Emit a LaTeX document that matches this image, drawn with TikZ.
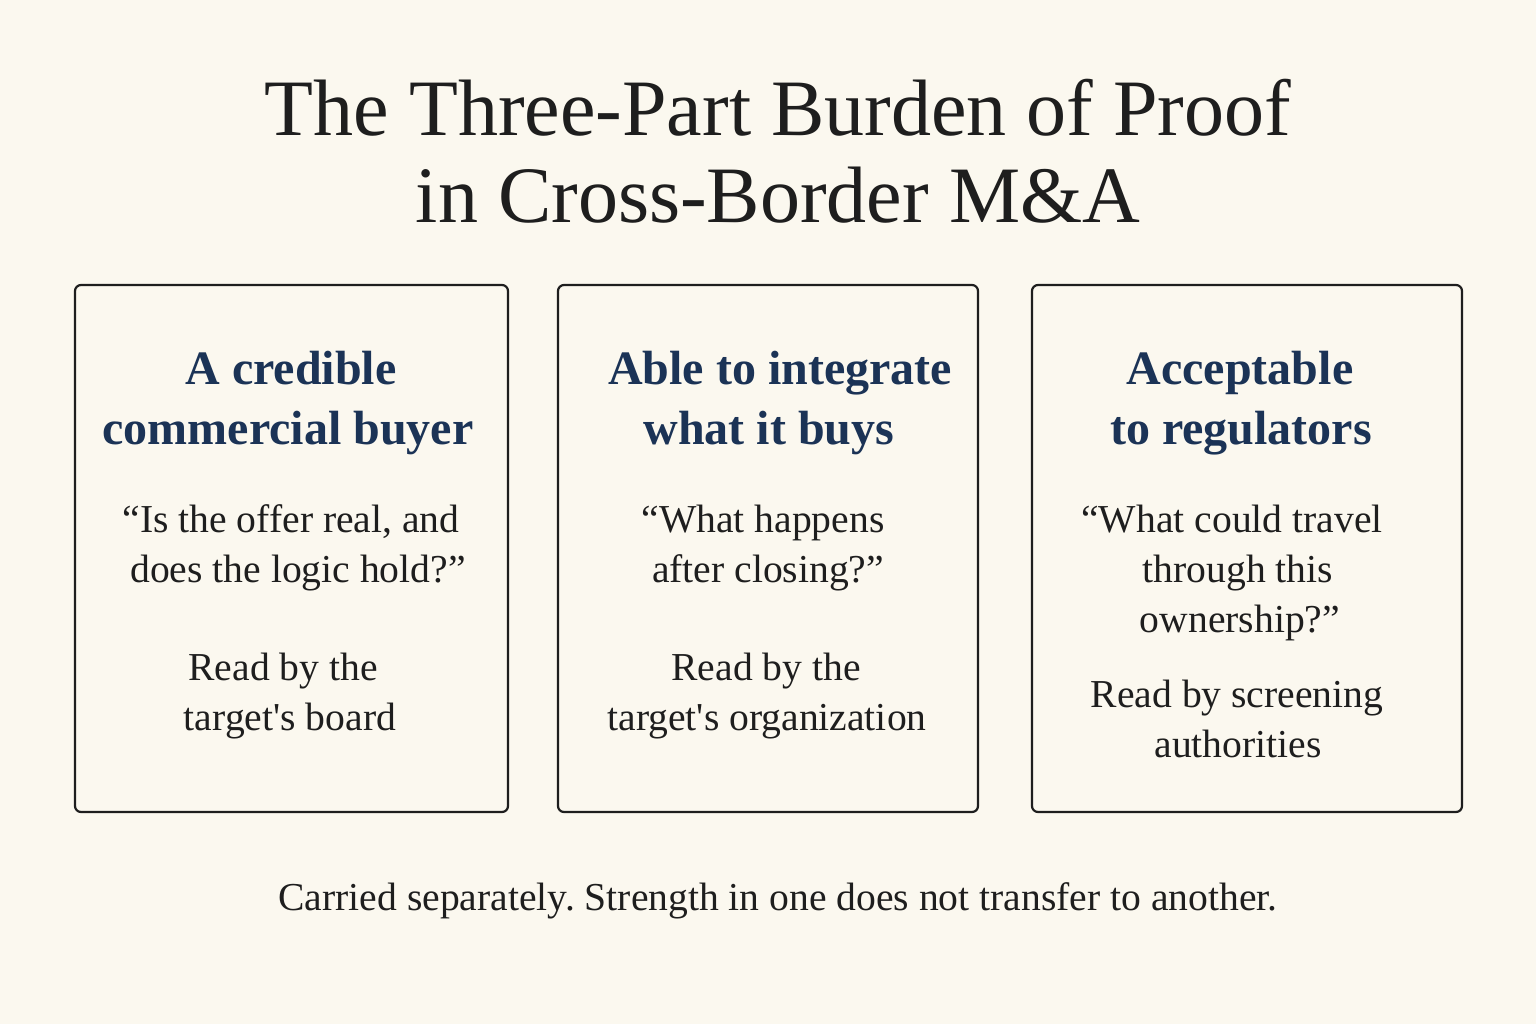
\documentclass[tikz,border=0pt]{standalone}
\usepackage{fontspec}
\setmainfont{Liberation Serif}
\definecolor{bg}{HTML}{FBF8EF}
\definecolor{ink}{HTML}{1E1E1E}
\definecolor{navy}{HTML}{1B3356}
\frenchspacing
\begin{document}
\begin{tikzpicture}[x=0.5pt,y=-0.5pt,
  card/.style={draw=ink,line width=1.1pt,rounded corners=3pt},
  t/.style={font=\fontsize{40}{44}\selectfont,text=ink,anchor=base},
  h/.style={font=\fontsize{24}{30}\selectfont\bfseries,text=navy,anchor=base},
  b/.style={font=\fontsize{19.8}{22}\selectfont,text=ink,anchor=base}]
\fill[bg] (0,0) rectangle (1536,1024);
\useasboundingbox (0,0) rectangle (1536,1024);
\node[t] (t1) at (778,135) {The Three-Part Burden of Proof};
\node[t] (t2) at (778,222) {in Cross-Border M\&A};
\draw[card] (75,285) rectangle (508,812);
\draw[card] (558,285) rectangle (978,812);
\draw[card] (1032,285) rectangle (1462,812);
% card 1
\node[h] (a1) at (291,384) {A credible};
\node[h] (a2) at (288,444) {commercial buyer};
\node[b] (a3) at (291,532) {“Is the offer real, and};
\node[b] (a4) at (298,582) {does the logic hold?”};
\node[b] (a5) at (283,680) {Read by the};
\node[b] (a6) at (290,730) {target\textquotesingle s board};
% card 2
\node[h] (b1) at (780,384) {Able to integrate};
\node[h] (b2) at (769,444) {what it buys};
\node[b] (b3) at (763,532) {“What happens};
\node[b] (b4) at (768,582) {after closing?”};
\node[b] (b5) at (766,680) {Read by the};
\node[b] (b6) at (767,730) {target\textquotesingle s organization};
% card 3
\node[h] (c1) at (1240,384) {Acceptable};
\node[h] (c2) at (1241,444) {to regulators};
\node[b] (c3) at (1232,532) {“What could travel};
\node[b] (c4) at (1238,582) {through this};
\node[b] (c5) at (1240,632) {ownership?”};
\node[b] (c6) at (1237,707) {Read by screening};
\node[b] (c7) at (1238,757) {authorities};
\node[b] (f) at (778,910) {Carried separately. Strength in one does not transfer to another.};
\end{tikzpicture}
\end{document}
